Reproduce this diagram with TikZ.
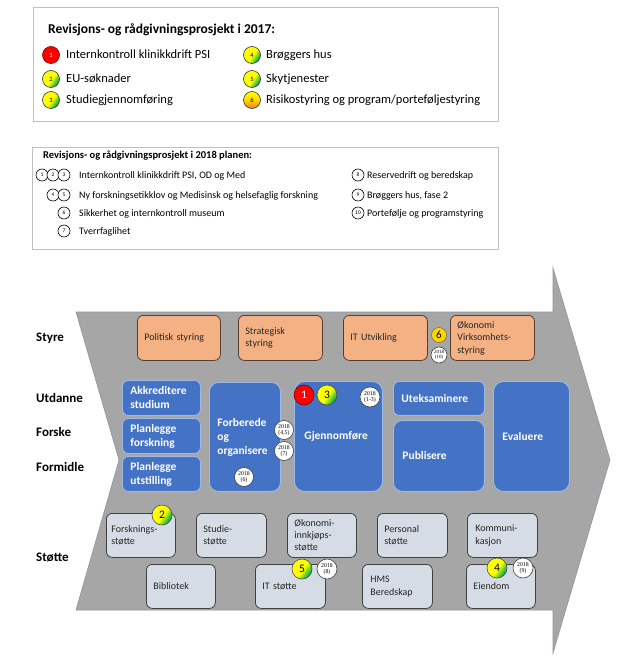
\documentclass[tikz,border=0pt]{standalone}
\usepackage{fontspec}
\setmainfont{Carlito}
\newfontfamily\yrfont{Liberation Serif}
\definecolor{boxblue}{RGB}{68,114,196}
\definecolor{bluebd}{RGB}{157,185,230}
\definecolor{orfill}{RGB}{244,177,131}
\definecolor{orbd}{RGB}{85,62,45}
\definecolor{supfill}{RGB}{214,220,229}
\definecolor{supbd}{RGB}{64,64,64}
\definecolor{arrgray}{RGB}{166,166,166}
\definecolor{arrbd}{RGB}{140,148,165}
\definecolor{legbd}{RGB}{192,192,192}
\definecolor{mygreen}{RGB}{0,176,80}
\definecolor{myorange}{RGB}{237,125,49}
\definecolor{gold}{RGB}{255,214,0}
\definecolor{myyellow}{RGB}{255,255,0}
\pgfdeclarehorizontalshading{ygshade}{100bp}{color(0bp)=(myyellow); color(25bp)=(myyellow); color(52bp)=(myyellow); color(72bp)=(mygreen); color(100bp)=(mygreen)}
\pgfdeclareverticalshading{yoshade}{100bp}{color(0bp)=(myorange); color(25bp)=(myorange); color(50bp)=(gold); color(75bp)=(myyellow); color(100bp)=(myyellow)}
\begin{document}
\begin{tikzpicture}[x=1pt,y=-1pt,
  legbox/.style={rectangle, draw=legbd, line width=1.2pt, fill=white, anchor=north west, inner sep=0pt},
  ltitle/.style={anchor=base west, inner sep=0pt, font=\bfseries\fontsize{13.5}{16}\selectfont},
  litem/.style={anchor=base west, inner sep=0pt, font=\fontsize{12.5}{15}\selectfont},
  ltitleb/.style={anchor=base west, inner sep=0pt, font=\bfseries\fontsize{10.5}{12}\selectfont},
  litemb/.style={anchor=base west, inner sep=0pt, font=\fontsize{10}{12}\selectfont},
  lc/.style={circle, draw=black!80, line width=0.6pt, minimum size=17pt, inner sep=0pt, font=\fontsize{6.5}{6.5}\selectfont},
  lcb/.style={circle, draw=black, line width=0.6pt, fill=white, minimum size=12pt, inner sep=0pt, font=\fontsize{5.5}{5.5}\selectfont},
  yg/.style={shading=ygshade, shading angle=-35},
  yo/.style={shading=yoshade},
  rd/.style={fill=red, draw=red!45!black},
  numc/.style={circle, draw=black!70, line width=0.6pt, minimum size=20pt, inner sep=0pt, font=\fontsize{11.5}{12}\selectfont},
  yr/.style={circle, draw=black!75, line width=0.6pt, fill=white, minimum size=19pt, inner sep=0pt, align=center, font=\yrfont\fontsize{5.8}{6.2}\selectfont},
  rowlab/.style={anchor=base west, inner sep=0pt, font=\bfseries\fontsize{13}{15}\selectfont},
  bbox/.style={rectangle, rounded corners=6pt, fill=boxblue, draw=bluebd, line width=0.9pt, text=white, font=\bfseries\fontsize{11.5}{14}\selectfont, align=left, inner xsep=8pt, inner ysep=0pt, anchor=north west},
  obox/.style={rectangle, rounded corners=6pt, fill=orfill, draw=orbd, line width=0.8pt, text=black!85, font=\fontsize{10}{12.5}\selectfont, align=left, inner xsep=7pt, inner ysep=0pt, anchor=north west, minimum height=45pt},
  sbox/.style={rectangle, rounded corners=6pt, fill=supfill, draw=supbd, line width=0.8pt, text=black!85, font=\fontsize{10}{12.5}\selectfont, align=left, inner xsep=7pt, inner ysep=0pt, anchor=north west, minimum height=44pt, text width=56pt}
]
\useasboundingbox (0,0) rectangle (629,671);
\fill[white] (0,0) rectangle (629,671);

% ---------- legend 2017 ----------
\node[legbox, minimum width=465pt, minimum height=114pt] (box1) at (33,7) {};
\node[ltitle] (t1) at (48,34) {Revisjons- og rådgivningsprosjekt i 2017:};
\node[lc, rd] (l1) at (51,55) {\textcolor{white}{1}};
\node[lc, yg] (l2) at (51,79) {2};
\node[lc, yg] (l3) at (51,100) {3};
\node[litem] (i1) at (66,59) {Internkontroll klinikkdrift PSI};
\node[litem] (i2) at (66,83) {EU-søknader};
\node[litem] (i3) at (66,104) {Studiegjennomføring};
\node[lc, yg] (l4) at (252,55) {4};
\node[lc, yg] (l5) at (252,79) {5};
\node[lc, yo] (l6) at (252,100) {6};
\node[litem] (i4) at (266,59) {Brøggers hus};
\node[litem] (i5) at (266,83) {Skytjenester};
\node[litem] (i6) at (266,104) {Risikostyring og program/porteføljestyring};

% ---------- legend 2018 ----------
\node[legbox, minimum width=466pt, minimum height=102pt] (box2) at (32,147) {};
\node[ltitleb] (t2) at (43,158.5) {Revisjons- og rådgivningsprosjekt i 2018 planen:};
\node[lcb] (m1) at (42,175) {1};
\node[lcb] (m2) at (53,175) {2};
\node[lcb] (m3) at (64,175) {3};
\node[lcb] (m4) at (53,195) {4};
\node[lcb] (m5) at (64,195) {5};
\node[lcb] (m6) at (64,213) {6};
\node[lcb] (m7) at (64,231) {7};
\node[litemb] (j1) at (79,178.2) {Internkontroll klinikkdrift PSI, OD og Med};
\node[litemb] (j2) at (79,198.2) {Ny forskningsetikklov og Medisinsk og helsefaglig forskning};
\node[litemb] (j3) at (79,216.2) {Sikkerhet og internkontroll museum};
\node[litemb] (j4) at (79,234.2) {Tverrfaglihet};
\node[lcb] (m8) at (358,175) {8};
\node[lcb] (m9) at (358,195) {9};
\node[lcb] (m10) at (358,213) {10};
\node[litemb] (j8) at (367,178.2) {Reservedrift og beredskap};
\node[litemb] (j9) at (367,198.2) {Brøggers hus, fase 2};
\node[litemb] (j10) at (367,216.2) {Portefølje og programstyring};

% ---------- big arrow ----------
\draw[fill=arrgray, draw=arrbd, line width=0.6pt, line join=miter]
  (76,312) -- (553,312) -- (553,268) -- (610,460) -- (553,653) -- (553,610) -- (76,610) -- (119,460) -- cycle;

% row labels
\node[rowlab] (rStyre) at (36,341.5) {Styre};
\node[rowlab] (rUtd) at (36,402) {Utdanne};
\node[rowlab] (rFor) at (36,436) {Forske};
\node[rowlab] (rFmd) at (36,471) {Formidle};
\node[rowlab] (rSt) at (36,561) {Støtte};

% Styre boxes
\node[obox, minimum width=83pt, text width=69pt] (pol) at (137,315) {Politisk styring};
\node[obox, minimum width=84pt, text width=70pt] (str) at (238,315) {Strategisk\\styring};
\node[obox, minimum width=84pt, text width=70pt] (itu) at (343,315) {IT Utvikling};
\node[obox, minimum width=84pt, text width=70pt] (oko) at (450,315) {Økonomi\\Virksomhets-\\styring};
\node[circle, draw=black!60, line width=0.5pt, fill=gold, minimum size=15pt, inner sep=0pt, font=\fontsize{11}{12}\selectfont] (s6) at (439,335) {6};
\node[yr, minimum size=16pt, font=\yrfont\fontsize{5}{5.5}\selectfont] (y10) at (439,355) {2018\\(10)};

% blue boxes
\node[bbox, minimum width=78pt, minimum height=35pt, text width=62pt] (akk) at (122,380) {Akkreditere\\studium};
\node[bbox, minimum width=78pt, minimum height=35pt, text width=62pt] (plf) at (122,418) {Planlegge\\forskning};
\node[bbox, minimum width=78pt, minimum height=35pt, text width=62pt] (plu) at (122,456) {Planlegge\\utstilling};
\node[bbox, rounded corners=9pt, minimum width=71pt, minimum height=109pt, text width=55pt] (forb) at (209,382) {Forberede\\og\\organisere};
\node[bbox, rounded corners=10pt, minimum width=88pt, minimum height=110pt, inner xsep=10pt, text width=68pt] (gjen) at (294,381) {Gjennomføre};
\node[bbox, minimum width=91pt, minimum height=34pt, text width=75pt] (utek) at (393,381) {Uteksaminere};
\node[bbox, rounded corners=9pt, minimum width=91pt, minimum height=71pt, text width=73pt, inner xsep=9pt] (publ) at (393,420) {Publisere};
\node[bbox, rounded corners=10pt, minimum width=76pt, minimum height=110pt, inner xsep=9pt, text width=58pt] (eval) at (493,381) {Evaluere};

\node[yr] (y45) at (284,430) {2018\\(4,5)};
\node[yr] (y7) at (284,451) {2018\\(7)};
\node[yr] (y6) at (244,477) {2018\\(6)};
\node[numc, rd, text=white] (g1) at (304,395) {1};
\node[numc, yg] (g3) at (327,395) {3};
\node[yr, minimum size=20pt] (y13) at (370,397) {2018\\(1-3)};

% support boxes
\node[sbox, minimum width=69pt, inner xsep=5pt, text width=59pt] (fst) at (106,513) {Forsknings-\\støtte};
\node[sbox, minimum width=70pt] (sst) at (196,513) {Studie-\\støtte};
\node[sbox, minimum width=69pt, text width=55pt, font=\fontsize{10}{12}\selectfont] (okst) at (287,513) {Økonomi-\\innkjøps-\\støtte};
\node[sbox, minimum width=70pt] (pst) at (377,513) {Personal\\støtte};
\node[sbox, minimum width=70pt, inner xsep=8pt, text width=54pt] (kom) at (467,513) {Kommuni-\\kasjon};
\node[sbox, minimum width=69pt, text width=55pt] (bib) at (146,564) {Bibliotek};
\node[sbox, minimum width=70pt] (its) at (255,564) {IT støtte};
\node[sbox, minimum width=70pt, inner xsep=8pt, text width=54pt] (hms) at (362,564) {HMS\\Beredskap};
\node[sbox, minimum width=69pt, text width=55pt] (eie) at (466,564) {Eiendom};

\node[numc, yg] (p2) at (162,515) {2};
\node[numc, yg] (p5) at (302,569) {5};
\node[yr, minimum size=20pt] (y8) at (327,569) {2018\\(8)};
\node[numc, yg] (p4) at (497,568) {4};
\node[yr, minimum size=20pt] (y9) at (523,568) {2018\\(9)};
\end{tikzpicture}
\end{document}
